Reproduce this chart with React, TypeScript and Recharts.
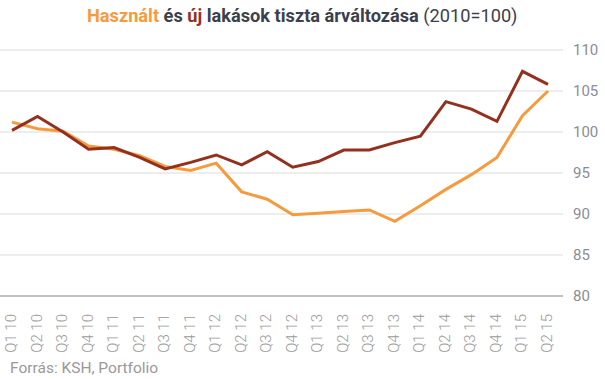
import { CartesianGrid, Line, LineChart, XAxis, YAxis } from "recharts";

const QUARTERS = [
  "Q1 10", "Q2 10", "Q3 10", "Q4 10",
  "Q1 11", "Q2 11", "Q3 11", "Q4 11",
  "Q1 12", "Q2 12", "Q3 12", "Q4 12",
  "Q1 13", "Q2 13", "Q3 13", "Q4 13",
  "Q1 14", "Q2 14", "Q3 14", "Q4 14",
  "Q1 15", "Q2 15",
];

// használt (used) homes
const USED = [
  101.2, 100.4, 100.1, 98.3, 97.9, 97.1, 95.8, 95.3, 96.2, 92.7, 91.8, 89.9,
  90.1, 90.3, 90.5, 89.1, 91.0, 93.0, 94.8, 96.9, 102.0, 105.0,
];

// új (new) homes
const NEW = [
  100.2, 101.9, 100.0, 97.9, 98.1, 96.9, 95.5, 96.3, 97.2, 96.0, 97.6, 95.7,
  96.4, 97.8, 97.8, 98.7, 99.5, 103.7, 102.8, 101.3, 107.4, 105.8,
];

const Y_TICKS = [80, 85, 90, 95, 100, 105, 110];

const ORANGE = "#F79A3E";
const DARK_RED = "#94301E";
const TEXT = "#3B414C";
const FONT = "Roboto, sans-serif";

const data = QUARTERS.map((q, i) => ({ q, used: USED[i], newer: NEW[i] }));

function QuarterTick(props: any) {
  const { x, y, payload } = props;
  const top = y + 10;
  return (
    <text
      x={x}
      y={top}
      dy={4}
      transform={`rotate(-90, ${x}, ${top})`}
      textAnchor="end"
      fontSize={15}
      fontWeight={300}
      fontFamily={FONT}
      fill="#999"
    >
      {payload.value}
    </text>
  );
}

export default function App() {
  return (
    <div style={{ position: "absolute", left: 0, top: 0, width: 605, height: 379, background: "#fff", fontFamily: FONT }}>
      <div
        style={{
          position: "absolute",
          top: 5,
          left: 87,
          fontSize: 18.2,
          fontWeight: 700,
          color: TEXT,
          whiteSpace: "nowrap",
        }}
      >
        <span style={{ color: ORANGE }}>Használt</span> és <span style={{ color: DARK_RED }}>új</span> lakások tiszta
        árváltozása <span style={{ fontWeight: 400 }}>(2010=100)</span>
      </div>
      <LineChart width={605} height={379} data={data} margin={{ top: 50, right: 0, bottom: 33, left: 0 }}>
        <CartesianGrid horizontal vertical={false} stroke="#dcdcdc" strokeWidth={1.2} />
        <XAxis
          dataKey="q"
          interval={0}
          height={50}
          padding={{ left: 12, right: 15 }}
          tickLine={false}
          axisLine={{ stroke: "#999", strokeWidth: 1.2 }}
          tick={<QuarterTick />}
        />
        <YAxis
          orientation="right"
          width={42}
          domain={[80, 110]}
          ticks={Y_TICKS}
          interval={0}
          tickLine={false}
          axisLine={false}
          tickMargin={4}
          tick={{ fontSize: 15, fill: "#8a8c98", fontFamily: FONT, textAnchor: "start" }}
        />
        <Line
          type="linear"
          dataKey="used"
          stroke={ORANGE}
          strokeWidth={3}
          dot={false}
          isAnimationActive={false}
        />
        <Line
          type="linear"
          dataKey="newer"
          stroke={DARK_RED}
          strokeWidth={3}
          dot={false}
          isAnimationActive={false}
        />
      </LineChart>
      <div style={{ position: "absolute", left: 10, top: 359, fontSize: 15.5, color: "#999" }}>Forrás: KSH, Portfolio</div>
    </div>
  );
}
